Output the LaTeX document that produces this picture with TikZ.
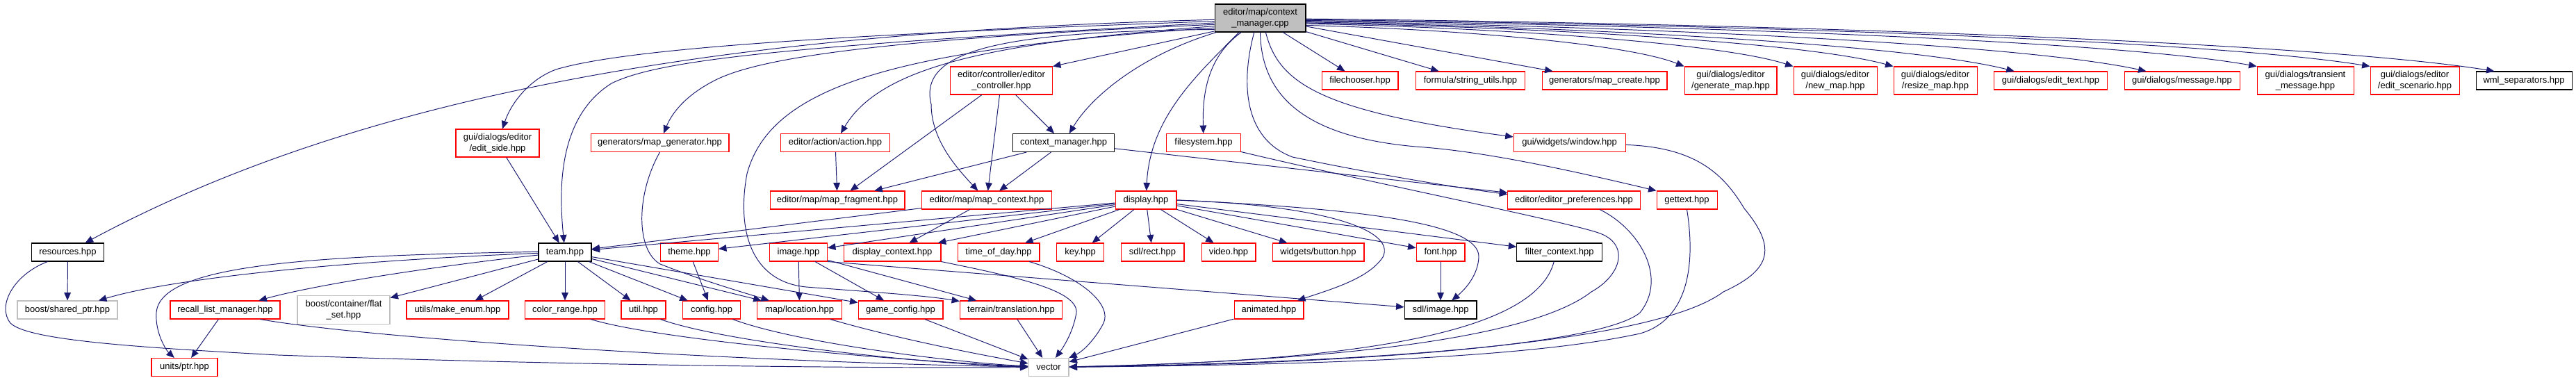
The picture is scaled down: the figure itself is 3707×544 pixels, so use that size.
\documentclass[tikz,border=0pt]{standalone}
\usepackage{fontspec}
\setmainfont{Liberation Sans}
\usetikzlibrary{arrows.meta}
\definecolor{edgec}{HTML}{191970}
\definecolor{nred}{HTML}{FF0000}
\definecolor{ngray}{HTML}{BFBFBF}
\definecolor{rootfill}{HTML}{BFBFBF}
\tikzset{
  nd/.style={draw, line width=0.6pt, font=\fontsize{7.4}{8.9}\selectfont, inner xsep=1pt, inner ysep=1pt, minimum height=0.52cm, align=center, text=black},
  rn/.style={nd, draw=nred},
  bn/.style={nd, draw=black},
  gn/.style={nd, draw=ngray},
  twoline/.style={minimum height=0.8cm},
  e/.style={draw=edgec, line width=0.55pt, -{Triangle[length=6.5pt,width=5.5pt]}},
}
\begin{document}
\begin{tikzpicture}[x=0.02cm, y=-0.02cm]
\useasboundingbox (0,0) rectangle (3707,544);
% row 1
\node[bn, twoline, fill=rootfill, minimum width=2.62cm] (root) at (1813.5,26) {editor/map/context\\\_manager.cpp};
% row 2
\node[rn, twoline, minimum width=2.94cm] (edctrl) at (1441,116) {editor/controller/editor\\\_controller.hpp};
\node[rn, minimum width=2.20cm] (filechooser) at (1957,116) {filechooser.hpp};
\node[rn, minimum width=3.14cm] (strutils) at (2116,116) {formula/string\_utils.hpp};
\node[rn, minimum width=3.60cm] (mapcreate) at (2309,116) {generators/map\_create.hpp};
\node[rn, twoline, minimum width=2.66cm] (genmap) at (2490.5,116) {gui/dialogs/editor\\/generate\_map.hpp};
\node[rn, twoline, minimum width=2.40cm] (newmap) at (2641,116) {gui/dialogs/editor\\/new\_map.hpp};
\node[rn, twoline, minimum width=2.40cm] (resizemap) at (2785,116) {gui/dialogs/editor\\/resize\_map.hpp};
\node[rn, minimum width=3.25cm] (edittext) at (2951,116) {gui/dialogs/edit\_text.hpp};
\node[rn, minimum width=3.32cm] (msgh) at (3140,116) {gui/dialogs/message.hpp};
\node[rn, twoline, minimum width=2.78cm] (transient) at (3317.5,116) {gui/dialogs/transient\\\_message.hpp};
\node[rn, twoline, minimum width=2.56cm] (editscen) at (3475,116) {gui/dialogs/editor\\/edit\_scenario.hpp};
\node[bn, minimum width=2.76cm] (wml) at (3632,116) {wml\_separators.hpp};
% row 3
\node[rn, twoline, minimum width=2.40cm] (editside) at (716,206) {gui/dialogs/editor\\/edit\_side.hpp};
\node[rn, minimum width=3.98cm] (mapgen) at (949.5,205.5) {generators/map\_generator.hpp};
\node[rn, minimum width=3.14cm] (act) at (1202,205.5) {editor/action/action.hpp};
\node[bn, minimum width=2.92cm] (ctxmgr) at (1530.6,205.5) {context\_manager.hpp};
\node[rn, minimum width=2.14cm] (filesystem) at (1732,205.5) {filesystem.hpp};
\node[rn, minimum width=3.22cm] (win) at (2258.6,205.5) {gui/widgets/window.hpp};
% row 4
\node[rn, minimum width=3.88cm] (mapfrag) at (1205,288) {editor/map/map\_fragment.hpp};
\node[rn, minimum width=3.74cm] (mapctx) at (1420,288) {editor/map/map\_context.hpp};
\node[rn, minimum width=1.76cm] (disp) at (1649,288) {display.hpp};
\node[rn, minimum width=3.81cm] (prefs) at (2265,288) {editor/editor\_preferences.hpp};
\node[rn, minimum width=1.74cm] (gettexth) at (2427.5,288) {gettext.hpp};
% row 5
\node[bn, minimum width=2.08cm] (resources) at (97.5,363) {resources.hpp};
\node[bn, minimum width=1.52cm] (team) at (813,363) {team.hpp};
\node[rn, minimum width=1.66cm] (theme) at (992,363) {theme.hpp};
\node[rn, minimum width=1.66cm] (imgh) at (1149,363) {image.hpp};
\node[rn, minimum width=2.80cm] (dispctx) at (1284,363) {display\_context.hpp};
\node[rn, minimum width=2.36cm] (tod) at (1437,363) {time\_of\_day.hpp};
\node[rn, minimum width=1.36cm] (keyh) at (1554.6,363) {key.hpp};
\node[rn, minimum width=1.82cm] (sdlrect) at (1658.5,363) {sdl/rect.hpp};
\node[rn, minimum width=1.56cm] (videoh) at (1768,363) {video.hpp};
\node[rn, minimum width=2.64cm] (button) at (1897,363) {widgets/button.hpp};
\node[rn, minimum width=1.40cm] (fonth) at (2073,363) {font.hpp};
\node[bn, minimum width=2.45cm] (filterctx) at (2244,363) {filter\_context.hpp};
% row 6
\node[gn, minimum width=2.88cm] (sharedptr) at (97,446) {boost/shared\_ptr.hpp};
\node[rn, minimum width=3.16cm] (recall) at (324,446) {recall\_list\_manager.hpp};
\node[gn, minimum width=2.66cm, minimum height=0.82cm] (flatset) at (494.5,446) {boost/container/flat\\\_set.hpp};
\node[rn, minimum width=2.94cm] (makeenum) at (658.5,446) {utils/make\_enum.hpp};
\node[rn, minimum width=2.30cm] (colorrange) at (813,446) {color\_range.hpp};
\node[rn, minimum width=1.28cm] (utilh) at (926,446) {util.hpp};
\node[rn, minimum width=1.66cm] (confh) at (1024,446) {config.hpp};
\node[rn, minimum width=2.44cm] (location) at (1150.6,446) {map/location.hpp};
\node[rn, minimum width=2.44cm] (gameconfig) at (1296,446) {game\_config.hpp};
\node[rn, minimum width=2.94cm] (translation) at (1455,446) {terrain/translation.hpp};
\node[rn, minimum width=2.00cm] (animated) at (1826,446) {animated.hpp};
\node[bn, minimum width=2.08cm] (sdlimage) at (2073,446) {sdl/image.hpp};
% row 7
\node[rn, minimum width=1.90cm] (unitsptr) at (265.5,528.5) {units/ptr.hpp};
\node[gn, minimum width=1.16cm] (vec) at (1509,528.5) {vector};

% ---- edges from root, left side
\draw[e] (root.182) .. controls (1100,45) and (550,120) .. (resources);
\draw[e] (root.184) .. controls (1200,50) and (900,70) .. (800,100) .. controls (760,115) and (735,150) .. (editside);
\draw[e] (root.186) .. controls (1150,65) and (950,85) .. (880,120) .. controls (800,170) and (805,280) .. (team);
\draw[e] (root.188) .. controls (1300,55) and (1100,80) .. (1030,115) .. controls (990,135) and (968,160) .. (mapgen);
\draw[e] (root.190) .. controls (1450,60) and (1270,90) .. (act);
\draw[e] (root.192) .. controls (1300,70) and (1110,120) .. (1075,250) .. controls (1060,330) and (1080,405) .. (1160,413) .. controls (1250,420) and (1330,425) .. (translation);
\draw[e] (root.194) .. controls (1450,45) and (1320,70) .. (1340,150) .. controls (1340,200) and (1375,240) .. (mapctx);
\draw[e] (root.196) -- (edctrl.north east);
\draw[e] (root.-162) .. controls (1640,80) and (1570,140) .. (ctxmgr);
\draw[e] (root.-146) .. controls (1720,110) and (1655,170) .. (disp);
\draw[e] (root.-143) .. controls (1740,80) and (1730,130) .. (filesystem);
% ---- edges from root, right side
\draw[e] (root) -- (filechooser);
\draw[e] (root) -- (strutils);
\draw[e] (root) -- (mapcreate);
\draw[e] (root.-9) .. controls (2097,42) and (2342,63) .. (genmap.north west);
\draw[e] (root.-7) .. controls (2160,40) and (2476,62) .. (newmap.north west);
\draw[e] (root.-6) .. controls (2217,39) and (2598,61) .. (resizemap.north west);
\draw[e] (root.-5) .. controls (2287,39) and (2746,64) .. ([xshift=0.59cm]edittext.north west);
\draw[e] (root.-4) .. controls (2363,38) and (2907,63) .. ([xshift=0.64cm]msgh.north west);
\draw[e] (root.-3) .. controls (2427,36) and (3043,59) .. (transient.north west);
\draw[e] (root.-2) .. controls (2491,35) and (3180,58) .. (editscen.north west);
\draw[e] (root.-1) .. controls (2563,34) and (3333,61) .. ([xshift=0.54cm]wml.north west);
\draw[e] (root.-69) .. controls (1840,120) and (1900,160) .. (win.174);
\draw[e] (root.-90) .. controls (1815,140) and (1880,200) .. (2050,212) .. controls (2150,220) and (2280,250) .. (gettexth.north west);
\draw[e] (root.-113) .. controls (1785,120) and (1790,200) .. (1860,226) .. controls (1950,245) and (2080,268) .. (prefs.175);

% ---- second level
\draw[e] (ctxmgr) -- (prefs);
\draw[e] (edctrl) -- (mapfrag);
\draw[e] (edctrl) -- (mapctx);
\draw[e] (edctrl) -- (ctxmgr);
\draw[e] (ctxmgr) -- (mapfrag);
\draw[e] (ctxmgr) -- (mapctx);
\draw[e] (act) -- (mapfrag);
\draw[e] (editside) -- (team);
\draw[e] (mapgen.south) .. controls (915,280) and (915,360) .. (950,380) .. controls (1000,400) and (1060,418) .. (location);
\draw[e] (mapctx) -- (team);
\draw[e] (mapctx) -- (dispctx);

% ---- display
\draw[e] (disp) -- (team);
\draw[e] (disp) -- (theme);
\draw[e] (disp) -- (imgh);
\draw[e] (disp) -- (dispctx);
\draw[e] (disp) -- (tod);
\draw[e] (disp) -- (keyh);
\draw[e] (disp) -- (sdlrect);
\draw[e] (disp) -- (videoh);
\draw[e] (disp) -- (button);
\draw[e] (disp) -- (fonth);
\draw[e] (disp) -- (filterctx);
\draw[e] (disp.east) .. controls (1900,295) and (2010,330) .. (1990,370) .. controls (1970,400) and (1920,415) .. (animated);
\draw[e] (disp.east) .. controls (1950,300) and (2130,320) .. (2128,370) .. controls (2127,395) and (2110,415) .. (sdlimage);
\draw[e] (fonth) -- (sdlimage);

% ---- team
\draw[e] (team.179) .. controls (450,368) and (230,380) .. (225,450) .. controls (223,480) and (240,505) .. (unitsptr);
\draw[e] (team.182) .. controls (500,375) and (250,400) .. (sharedptr);
\draw[e] (team.186) .. controls (650,380) and (460,408) .. (recall);
\draw[e] (team) -- (flatset);
\draw[e] (team) -- (makeenum);
\draw[e] (team) -- (colorrange);
\draw[e] (team) -- (utilh);
\draw[e] (team) -- (confh);
\draw[e] (team) -- (location);
\draw[e] (team) -- (gameconfig);

% ---- others
\draw[e] (theme) -- (confh);
\draw[e] (imgh) -- (location);
\draw[e] (imgh) -- (gameconfig);
\draw[e] (imgh) -- (translation);
\draw[e] (imgh.south east) -- (sdlimage);
\draw[e] (resources) -- (sharedptr);
\draw[e] (recall) -- (unitsptr);

% ---- into vector
\draw[e] (resources.-155) .. controls (20,395) and (-5,440) .. (15,465) .. controls (40,490) and (200,500) .. (400,511) .. controls (800,525) and (1200,530) .. (vec);
\draw[e] (recall.-15) .. controls (550,490) and (1100,522) .. (vec);
\draw[e] (colorrange.-20) .. controls (950,490) and (1300,520) .. (vec);
\draw[e] (utilh.-29) .. controls (1050,495) and (1350,525) .. (vec);
\draw[e] (confh.-24) .. controls (1150,495) and (1380,522) .. (vec);
\draw[e] (location.-17) .. controls (1300,490) and (1420,512) .. (vec);
\draw[e] (gameconfig) -- (vec);
\draw[e] (translation) -- (vec);
\draw[e] (dispctx.south east) .. controls (1470,400) and (1560,420) .. (1548,455) .. controls (1543,480) and (1530,500) .. (vec);
\draw[e] (tod.-17) .. controls (1560,400) and (1600,440) .. (1588,465) .. controls (1578,485) and (1560,505) .. (vec);
\draw[e] (animated) -- (vec);
\draw[e] (filterctx.-120) .. controls (2210,480) and (1950,520) .. (vec);
\draw[e] (filesystem) .. controls (1950,258) and (2250,318) .. (2300,335) .. controls (2345,350) and (2335,395) .. (2290,420) .. controls (2200,490) and (1900,520) .. (vec);
\draw[e] (prefs.-20) .. controls (2360,330) and (2400,400) .. (2360,450) .. controls (2300,500) and (1900,525) .. (vec);
\draw[e] (gettexth.south) .. controls (2440,380) and (2430,460) .. (2360,480) .. controls (2200,515) and (1900,525) .. (vec);
\draw[e] (win) .. controls (2440,212) and (2480,250) .. (2510,300) .. controls (2560,360) and (2545,390) .. (2480,420) .. controls (2400,480) and (2100,520) .. (vec);
\end{tikzpicture}
\end{document}
